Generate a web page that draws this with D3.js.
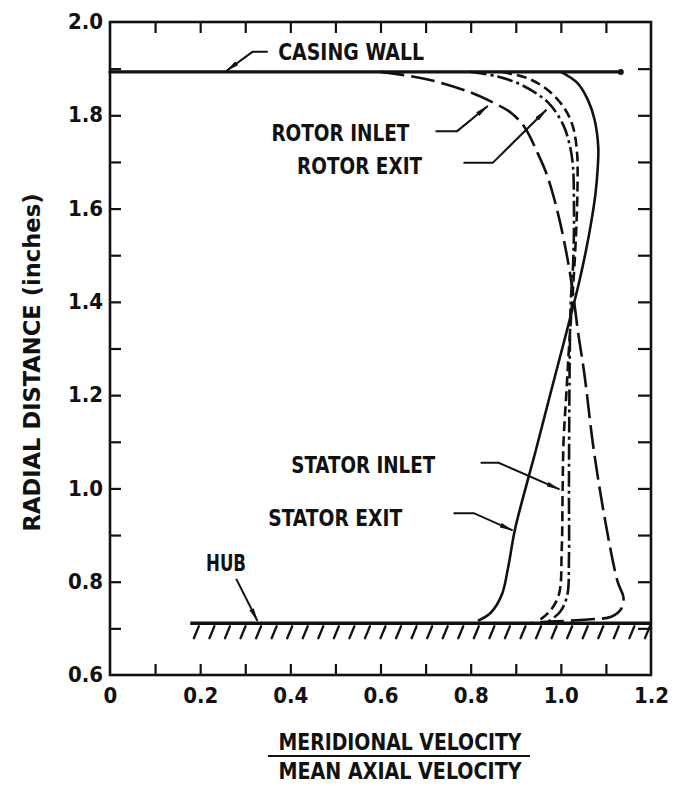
<!DOCTYPE html>
<html>
<head>
<meta charset="utf-8">
<script src="https://cdn.jsdelivr.net/npm/d3@7"></script>
<style>
  html, body { margin: 0; padding: 0; background: #fff; }
  svg { display: block; }
  text { font-family: "DejaVu Sans Condensed", "Liberation Sans Narrow", "Roboto Condensed", sans-serif; font-stretch: condensed; fill: #111; }
</style>
</head>
<body>
<svg id="chart" width="674" height="786"></svg>
<script>
// ---------------- data ----------------
const xTickValues = [0, 0.2, 0.4, 0.6, 0.8, 1.0, 1.2];
const xTickLabels = ["0", "0.2", "0.4", "0.6", "0.8", "1.0", "1.2"];
const xMinorTicks = [0.1, 0.2, 0.3, 0.4, 0.5, 0.6, 0.7, 0.8, 0.9, 1.0, 1.1];
const yTickValues = [0.6, 0.8, 1.0, 1.2, 1.4, 1.6, 1.8, 2.0];
const yTickLabels = ["0.6", "0.8", "1.0", "1.2", "1.4", "1.6", "1.8", "2.0"];
const yMinorTicks = [0.7, 0.8, 0.9, 1.0, 1.1, 1.2, 1.3, 1.4, 1.5, 1.6, 1.7, 1.8, 1.9];

const casingRadius = 1.893;
const casingExtent = [0.0, 1.133];
const hubRadius = 0.711;
const hubExtent = [0.178, 1.2];

// [meridional velocity ratio, radial distance]
const rotorInlet = [
  [0.60, 1.893], [0.70, 1.878], [0.80, 1.849], [0.85, 1.827], [0.89, 1.805],
  [0.92, 1.774], [0.948, 1.72], [0.97, 1.67], [0.996, 1.58], [1.018, 1.475],
  [1.029, 1.404], [1.038, 1.336], [1.052, 1.247], [1.072, 1.09], [1.097, 0.938],
  [1.126, 0.80], [1.139, 0.766], [1.134, 0.742], [1.112, 0.725], [1.06, 0.719],
  [0.99, 0.715], [0.935, 0.712]
];
const rotorExit = [
  [0.80, 1.893], [0.86, 1.883], [0.915, 1.864], [0.972, 1.827], [1.005, 1.78],
  [1.02, 1.735], [1.027, 1.69], [1.029, 1.62], [1.029, 1.55], [1.027, 1.475],
  [1.022, 1.40], [1.02, 1.3], [1.019, 1.2], [1.018, 1.0], [1.018, 0.85],
  [1.014, 0.77], [0.998, 0.735], [0.97, 0.713]
];
const statorInlet = [
  [0.87, 1.893], [0.93, 1.878], [0.975, 1.851], [1.008, 1.815], [1.027, 1.775],
  [1.036, 1.72], [1.037, 1.65], [1.035, 1.575], [1.03, 1.475], [1.025, 1.40],
  [1.018, 1.3], [1.012, 1.2], [1.006, 1.1], [1.004, 1.0], [1.002, 0.87],
  [0.995, 0.77], [0.972, 0.733], [0.945, 0.713]
];
const statorExit = [
  [1.0, 1.893], [1.037, 1.869], [1.06, 1.833], [1.075, 1.79], [1.083, 1.732],
  [1.082, 1.69], [1.077, 1.633], [1.069, 1.58], [1.056, 1.511], [1.040, 1.44],
  [1.027, 1.389], [1.012, 1.333], [0.975, 1.196], [0.943, 1.076], [0.923, 1.005],
  [0.898, 0.911], [0.883, 0.83], [0.869, 0.772], [0.845, 0.734], [0.816, 0.716]
];

// annotation labels: text, anchor point (data units), width in px
const labels = [
  { text: "CASING WALL",  at: [0.373, 1.919], w: 146 },
  { text: "ROTOR INLET",  at: [0.358, 1.744], w: 138 },
  { text: "ROTOR EXIT",   at: [0.415, 1.675], w: 125 },
  { text: "STATOR INLET", at: [0.402, 1.033], w: 144 },
  { text: "STATOR EXIT",  at: [0.351, 0.919], w: 134 },
  { text: "HUB",          at: [0.213, 0.822], w: 40 }
];
// leader lines (data units)
const leaders = [
  [[0.350, 1.936], [0.316, 1.936], [0.258, 1.895]],
  [[0.722, 1.766], [0.770, 1.766], [0.838, 1.820]],
  [[0.784, 1.698], [0.849, 1.698], [0.968, 1.812]],
  [[0.822, 1.055], [0.862, 1.055], [0.997, 0.998]],
  [[0.762, 0.947], [0.807, 0.947], [0.893, 0.910]],
  [[0.280, 0.806], [0.327, 0.716]]
];

const xTitleTop = "MERIDIONAL VELOCITY";
const xTitleBottom = "MEAN AXIAL VELOCITY";
const yTitle = "RADIAL DISTANCE (inches)";

// ---------------- drawing ----------------
const svg = d3.select("#chart");
const x = d3.scaleLinear().domain([0, 1.2]).range([110, 651]);
const y = d3.scaleLinear().domain([0.6, 2.0]).range([675, 22]);
const ink = "#111";

const defs = svg.append("defs");
defs.append("marker")
  .attr("id", "ah").attr("viewBox", "0 0 14 6").attr("refX", 13).attr("refY", 3)
  .attr("markerWidth", 14).attr("markerHeight", 6).attr("markerUnits", "userSpaceOnUse")
  .attr("orient", "auto")
  .append("path").attr("d", "M0,0.6 L14,3 L0,5.4 Z").attr("fill", ink);

// frame
svg.append("rect")
  .attr("x", x(0)).attr("y", y(2.0))
  .attr("width", x(1.2) - x(0)).attr("height", y(0.6) - y(2.0))
  .attr("fill", "none").attr("stroke", ink).attr("stroke-width", 2.6);

// minor ticks on four sides (inward)
svg.append("g").attr("transform", `translate(0,${y(0.6)})`)
  .call(d3.axisBottom(x).tickValues(xMinorTicks).tickSize(-11).tickFormat(""))
  .call(g => g.select(".domain").remove());
svg.append("g").attr("transform", `translate(0,${y(2.0)})`)
  .call(d3.axisTop(x).tickValues(xMinorTicks).tickSize(-11).tickFormat(""))
  .call(g => g.select(".domain").remove());
svg.append("g").attr("transform", `translate(${x(0)},0)`)
  .call(d3.axisLeft(y).tickValues(yMinorTicks).tickSize(-11).tickFormat(""))
  .call(g => g.select(".domain").remove());
svg.append("g").attr("transform", `translate(${x(1.2)},0)`)
  .call(d3.axisRight(y).tickValues(yMinorTicks).tickSize(-13).tickFormat(""))
  .call(g => g.select(".domain").remove());
svg.selectAll(".tick line").attr("stroke", ink).attr("stroke-width", 2.2);

// tick labels
const xl = svg.append("g").attr("transform", `translate(0,${y(0.6)})`)
  .call(d3.axisBottom(x).tickValues(xTickValues).tickSize(0).tickPadding(8)
    .tickFormat((d, i) => xTickLabels[i]));
xl.select(".domain").remove();
xl.selectAll("text").attr("font-size", 22).attr("font-weight", "bold").attr("fill", ink)
  .attr("dy", "0.9em").attr("font-family", null);

const yl = svg.append("g").attr("transform", `translate(${x(0)},0)`)
  .call(d3.axisLeft(y).tickValues(yTickValues).tickSize(0).tickPadding(7)
    .tickFormat((d, i) => yTickLabels[i]));
yl.select(".domain").remove();
yl.selectAll("text").attr("font-size", 22).attr("font-weight", "bold").attr("fill", ink)
  .attr("dy", "0.3em").attr("font-family", null);

// casing wall
svg.append("line")
  .attr("x1", x(casingExtent[0])).attr("x2", x(casingExtent[1]))
  .attr("y1", y(casingRadius)).attr("y2", y(casingRadius))
  .attr("stroke", ink).attr("stroke-width", 3.2).attr("stroke-linecap", "round");
svg.append("circle").attr("cx", x(casingExtent[1])).attr("cy", y(casingRadius)).attr("r", 3).attr("fill", ink);

// hub + hatching
svg.append("line")
  .attr("x1", x(hubExtent[0])).attr("x2", x(hubExtent[1]))
  .attr("y1", y(hubRadius)).attr("y2", y(hubRadius))
  .attr("stroke", ink).attr("stroke-width", 3.4);
const hatchX = d3.range(hubExtent[0] + 0.008, hubExtent[1] - 0.005, 0.0345);
svg.append("g").selectAll("line").data(hatchX).join("line")
  .attr("x1", d => x(d)).attr("y1", y(hubRadius) + 15)
  .attr("x2", d => x(d) + 5).attr("y2", y(hubRadius) + 3)
  .attr("stroke", ink).attr("stroke-width", 2.3).attr("stroke-linecap", "round");

// curves
const line = d3.line().x(d => x(d[0])).y(d => y(d[1])).curve(d3.curveCatmullRom.alpha(0.5));
const series = [
  { data: rotorInlet,  dash: "24,7" },
  { data: rotorExit,   dash: "16,4,3,4" },
  { data: statorInlet, dash: "10,5" },
  { data: statorExit,  dash: null }
];
svg.append("g").selectAll("path").data(series).join("path")
  .attr("d", d => line(d.data))
  .attr("fill", "none").attr("stroke", ink).attr("stroke-width", 2.6)
  .attr("stroke-dasharray", d => d.dash);

// leaders
const lline = d3.line().x(d => x(d[0])).y(d => y(d[1]));
svg.append("g").selectAll("path").data(leaders).join("path")
  .attr("d", d => lline(d)).attr("fill", "none").attr("stroke", ink)
  .attr("stroke-width", 2).attr("marker-end", "url(#ah)");

// labels
svg.append("g").selectAll("text").data(labels).join("text")
  .attr("x", d => x(d.at[0])).attr("y", d => y(d.at[1]))
  .attr("text-anchor", "start")
  .attr("font-size", 23).attr("font-weight", "bold")
  .attr("textLength", d => d.w).attr("lengthAdjust", "spacingAndGlyphs")
  .text(d => d.text);

// x title (fraction)
const cx = 400;
svg.append("text").attr("x", cx).attr("y", 750).attr("text-anchor", "middle")
  .attr("font-size", 23).attr("font-weight", "bold").attr("textLength", 243).attr("lengthAdjust", "spacingAndGlyphs")
  .text(xTitleTop);
svg.append("line").attr("x1", 268).attr("x2", 530).attr("y1", 756).attr("y2", 756)
  .attr("stroke", ink).attr("stroke-width", 2.2);
svg.append("text").attr("x", cx).attr("y", 779).attr("text-anchor", "middle")
  .attr("font-size", 23).attr("font-weight", "bold").attr("textLength", 243).attr("lengthAdjust", "spacingAndGlyphs")
  .text(xTitleBottom);

// y title
svg.append("text")
  .attr("transform", `translate(40,${y(1.27)}) rotate(-90)`)
  .attr("text-anchor", "middle")
  .attr("font-size", 23).attr("font-weight", "bold").attr("textLength", 338).attr("lengthAdjust", "spacingAndGlyphs")
  .text(yTitle);
</script>
</body>
</html>
